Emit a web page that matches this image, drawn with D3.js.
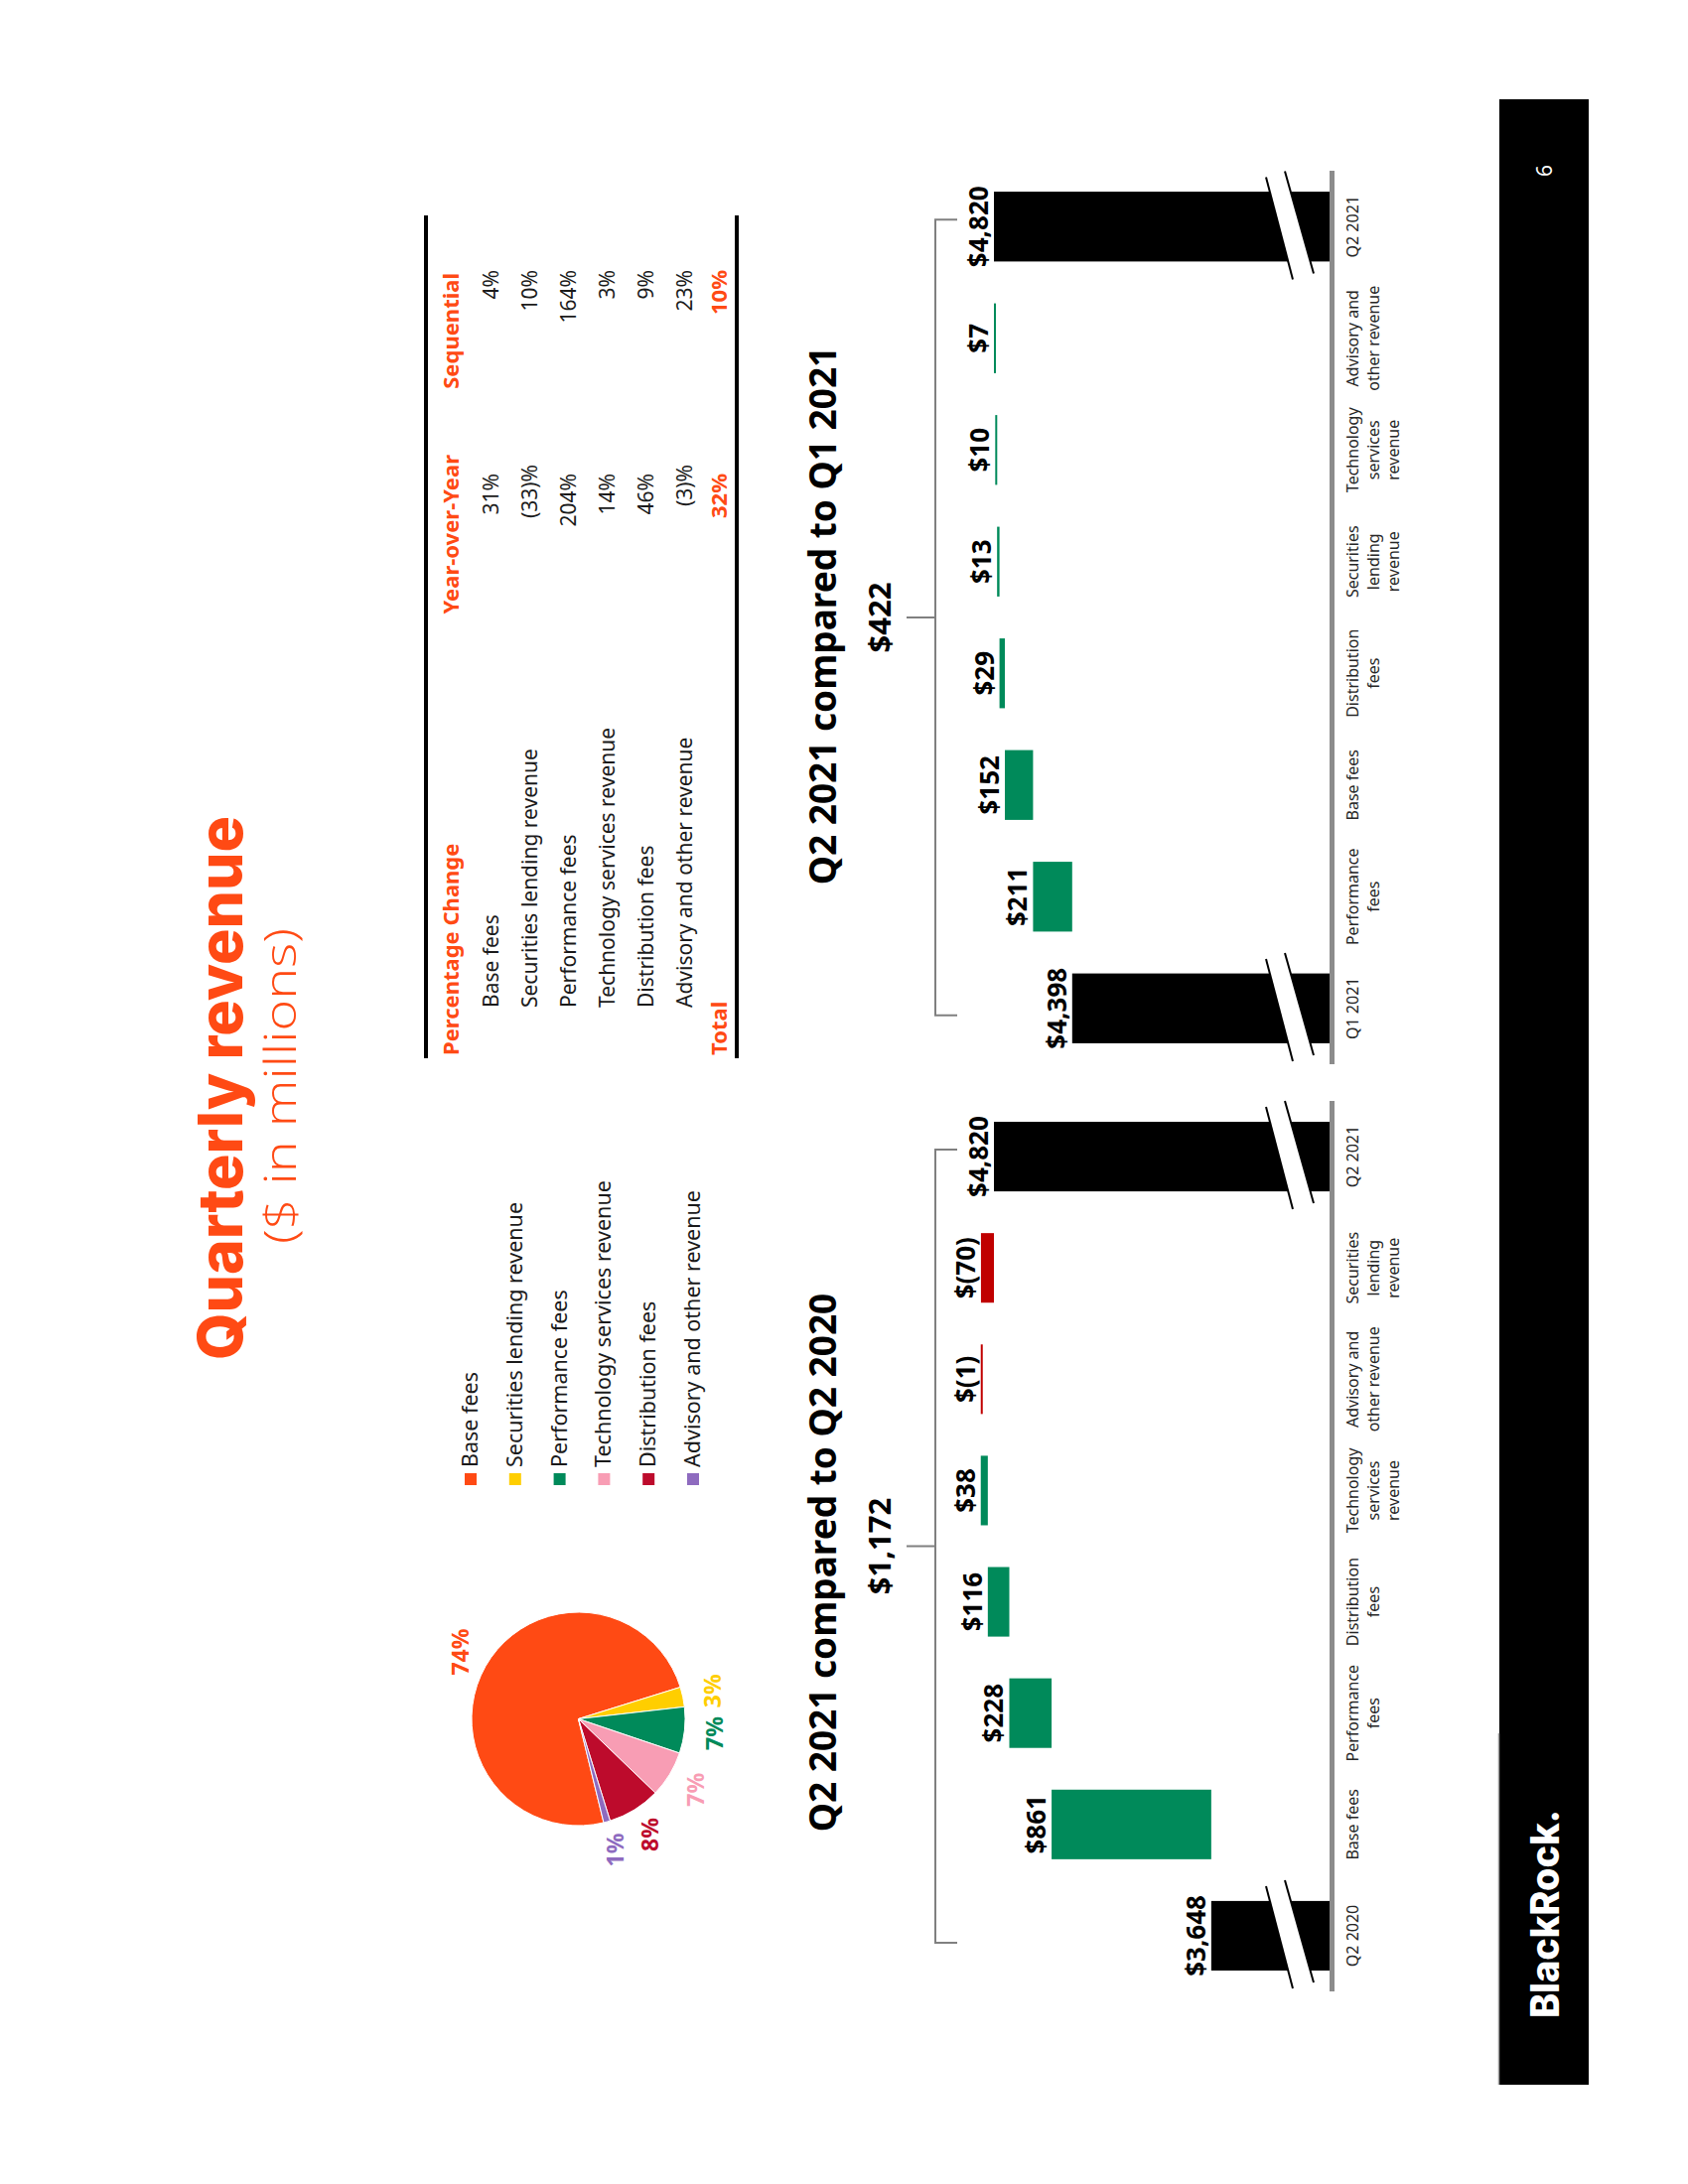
<!DOCTYPE html>
<html>
<head>
<meta charset="utf-8">
<script src="https://cdn.jsdelivr.net/npm/d3@7"></script>
<style>
  body { margin: 0; background: #fff; }
  text { font-family: "Noto Sans", "Open Sans", sans-serif; }
</style>
</head>
<body>
<div id="chart"></div>
<script>
// ---- data ----
var pieCategories = ['Base fees', 'Securities lending revenue', 'Performance fees',
  'Technology services revenue', 'Distribution fees', 'Advisory and other revenue']
var pieShares = [74, 3, 7, 7, 8, 1]

var yoyCategories = ['Q2 2020', 'Base fees', 'Performance fees', 'Distribution fees',
  'Technology services revenue', 'Advisory and other revenue', 'Securities lending revenue', 'Q2 2021']
var yoyValues = [3648, 861, 228, 116, 38, -1, -70, 4820]

var qoqCategories = ['Q1 2021', 'Performance fees', 'Base fees', 'Distribution fees',
  'Securities lending revenue', 'Technology services revenue', 'Advisory and other revenue', 'Q2 2021']
var qoqValues = [4398, 211, 152, 29, 13, 10, 7, 4820]

var tableRows = ['Base fees', 'Securities lending revenue', 'Performance fees',
  'Technology services revenue', 'Distribution fees', 'Advisory and other revenue']
var yoyChange = ['31%', '(33)%', '204%', '14%', '46%', '(3)%']
var seqChange = ['4%', '10%', '164%', '3%', '9%', '23%']
var totalChange = ['32%', '10%']

// where the value axis is cut (bars below this are not shown)
var axisFloor = 3010

// ---- styles ----
var orange = '#ff4a14'
var sliceColors = ['#ff4a14', '#ffce00', '#008a5a', '#f89db4', '#bd0b2c', '#8e6bbf']
var green = '#008a5a'
var red = '#c00000'
var gray = '#808080'

var labelLines = {
  'Base fees': ['Base fees'],
  'Performance fees': ['Performance', 'fees'],
  'Distribution fees': ['Distribution', 'fees'],
  'Technology services revenue': ['Technology', 'services', 'revenue'],
  'Advisory and other revenue': ['Advisory and', 'other revenue'],
  'Securities lending revenue': ['Securities', 'lending', 'revenue']
}

var width = 1700
var height = 2200

var svg = d3
  .select('#chart')
  .append('svg')
  .attr('width', width)
  .attr('height', height)

svg.append('rect').attr('width', width).attr('height', height).attr('fill', '#fff')

// the slide is landscape; draw it flat, then turn it so it reads bottom-to-top
var slide = svg.append('g').attr('transform', 'translate(0,' + height + ') rotate(-90)')

// ---- titles ----
slide
  .append('text')
  .attr('x', 1104)
  .attr('y', 244)
  .attr('text-anchor', 'middle')
  .attr('font-size', 62)
  .attr('font-weight', 800)
  .style('font-family', 'Inter, "Open Sans", sans-serif')
  .attr('textLength', 548)
  .attr('lengthAdjust', 'spacingAndGlyphs')
  .attr('fill', orange)
  .text('Quarterly revenue')

slide
  .append('text')
  .attr('x', 1106)
  .attr('y', 298)
  .attr('text-anchor', 'middle')
  .attr('font-size', 44)
  .attr('font-weight', 300)
  .style('font-family', '"Open Sans", "Noto Sans", sans-serif')
  .attr('textLength', 318)
  .attr('lengthAdjust', 'spacingAndGlyphs')
  .attr('fill', orange)
  .text('($ in millions)')

// ---- pie ----
var pieRadius = 107.5
var startAngle = -103.7 * Math.PI / 180
var pie = d3
  .pie()
  .sort(null)
  .startAngle(startAngle)
  .endAngle(startAngle + 2 * Math.PI)

var arc = d3.arc().innerRadius(0).outerRadius(pieRadius)
var labelArc = d3.arc().innerRadius(137).outerRadius(137)

var pieG = slide.append('g').attr('transform', 'translate(468.5,582.5)')

var slices = pie(pieShares)

pieG
  .selectAll('path')
  .data(slices)
  .enter()
  .append('path')
  .attr('d', arc)
  .attr('fill', (d, i) => sliceColors[i])
  .attr('stroke', '#fff')
  .attr('stroke-width', 1)

pieG
  .selectAll('.pie-label')
  .data(slices)
  .enter()
  .append('text')
  .attr('class', 'pie-label')
  .attr('transform', d => 'translate(' + labelArc.centroid(d) + ')')
  .attr('text-anchor', 'middle')
  .attr('dominant-baseline', 'central')
  .attr('font-size', 23)
  .attr('font-weight', 700)
  .attr('fill', (d, i) => sliceColors[i])
  .text(d => d.data + '%')

// ---- legend ----
var legend = slide
  .selectAll('.legend')
  .data(pieCategories)
  .enter()
  .append('g')
  .attr('class', 'legend')
  .attr('transform', (d, i) => 'translate(0,' + (i * 44.8) + ')')

legend
  .append('rect')
  .attr('x', 704)
  .attr('y', 468)
  .attr('width', 12)
  .attr('height', 12)
  .attr('fill', (d, i) => sliceColors[i])

legend
  .append('text')
  .attr('x', 722)
  .attr('y', 481)
  .attr('font-size', 21.5)
  .attr('fill', '#1a1a1a')
  .text(d => d)

// ---- percentage change table ----
var table = slide.append('g')

table
  .selectAll('.rule')
  .data([429, 742])
  .enter()
  .append('line')
  .attr('x1', 1134)
  .attr('x2', 1983)
  .attr('y1', d => d)
  .attr('y2', d => d)
  .attr('stroke', '#000')
  .attr('stroke-width', 4)

var headG = table
  .append('g')
  .attr('font-size', 22)
  .attr('font-weight', 700)
  .attr('fill', orange)
headG.append('text').attr('x', 1137).attr('y', 462).text('Percentage Change')
headG.append('text').attr('x', 1742).attr('y', 462).attr('text-anchor', 'end').text('Year-over-Year')
headG.append('text').attr('x', 1925).attr('y', 462).attr('text-anchor', 'end').text('Sequential')

var rowY = i => 502 + i * 39
// values in parentheses hang a little past the column edge
var hang = s => (s.indexOf(')') >= 0 ? 9 : 0)

var rows = table
  .selectAll('.row')
  .data(tableRows)
  .enter()
  .append('g')
  .attr('font-size', 21)
  .attr('fill', '#1a1a1a')

rows.append('text').attr('x', 1185).attr('y', (d, i) => rowY(i)).text(d => d)
rows
  .append('text')
  .attr('x', (d, i) => 1723 + hang(yoyChange[i]))
  .attr('y', (d, i) => rowY(i))
  .attr('text-anchor', 'end')
  .text((d, i) => yoyChange[i])
rows
  .append('text')
  .attr('x', (d, i) => 1928 + hang(seqChange[i]))
  .attr('y', (d, i) => rowY(i))
  .attr('text-anchor', 'end')
  .text((d, i) => seqChange[i])

var totalG = table
  .append('g')
  .attr('font-size', 22)
  .attr('font-weight', 700)
  .attr('fill', orange)
totalG.append('text').attr('x', 1137).attr('y', 732).text('Total')
totalG.append('text').attr('x', 1723).attr('y', 732).attr('text-anchor', 'end').text(totalChange[0])
totalG.append('text').attr('x', 1928).attr('y', 732).attr('text-anchor', 'end').text(totalChange[1])

// ---- waterfalls ----
var yScale = d3
  .scaleLinear()
  .domain([axisFloor, d3.max(yoyValues.concat(qoqValues))])
  .range([1339, 1001])

var fmt = d3.format(',')
var money = v => (v < 0 ? '$(' + fmt(-v) + ')' : '$' + fmt(v))

function waterfall(categories, values, range, title, titleX) {
  var g = slide.append('g')

  var x = d3
    .scaleBand()
    .domain(categories)
    .range(range)
    .paddingInner(0.375)
    .paddingOuter(0.1875)

  var last = values.length - 1
  var run = values[0]
  var steps = values.map(function(v, i) {
    if (i === 0 || i === last) {
      return { cat: categories[i], v: v, lo: axisFloor, hi: v, total: true }
    }
    var s = { cat: categories[i], v: v, lo: Math.min(run, run + v), hi: Math.max(run, run + v) }
    run += v
    return s
  })

  // bars
  g.selectAll('.bar')
    .data(steps)
    .enter()
    .append('rect')
    .attr('x', d => x(d.cat))
    .attr('width', x.bandwidth())
    .attr('y', d => yScale(d.hi))
    .attr('height', d => Math.max(2, yScale(d.lo) - yScale(d.hi)))
    .attr('fill', d => (d.total ? '#000' : d.v < 0 ? red : green))

  // axis break on the two total bars
  var base = yScale(axisFloor)
  var breaks = g
    .selectAll('.brk')
    .data(steps.filter(d => d.total))
    .enter()
    .append('g')
    .attr('transform', d => 'translate(' + x(d.cat) + ',' + base + ')')
  breaks
    .append('polygon')
    .attr('points', '-18,-37 85,-64 91,-45 -12,-16')
    .attr('fill', '#fff')
  breaks
    .selectAll('line')
    .data([[-18, -37, 85, -64], [-12, -16, 91, -45]])
    .enter()
    .append('line')
    .attr('x1', d => d[0])
    .attr('y1', d => d[1])
    .attr('x2', d => d[2])
    .attr('y2', d => d[3])
    .attr('stroke', '#000')
    .attr('stroke-width', 2)

  // value labels
  g.selectAll('.val')
    .data(steps)
    .enter()
    .append('text')
    .attr('x', d => x(d.cat) + x.bandwidth() / 2)
    .attr('y', d => yScale(d.hi) - 6)
    .attr('text-anchor', 'middle')
    .attr('font-size', 26)
    .attr('font-weight', 700)
    .attr('fill', '#000')
    .text(d => money(d.v))

  // baseline
  g.append('line')
    .attr('x1', range[0])
    .attr('x2', range[1])
    .attr('y1', base + 2.5)
    .attr('y2', base + 2.5)
    .attr('stroke', '#8c8c8c')
    .attr('stroke-width', 5)

  // category labels
  var cats = g
    .selectAll('.cat')
    .data(categories)
    .enter()
    .append('text')
    .attr('text-anchor', 'middle')
    .attr('font-size', 16)
    .attr('fill', '#262626')
  cats
    .selectAll('tspan')
    .data(d => (labelLines[d] || [d]).map(t => ({ t: t, c: d })))
    .enter()
    .append('tspan')
    .attr('x', d => x(d.c) + x.bandwidth() / 2)
    .attr('y', (d, i) => 1368 + i * 20.5)
    .text(d => d.t)

  // bracket showing the change between the two totals
  var xa = x(categories[0]) + x.bandwidth() / 2 - 7
  var xb = x(categories[last]) + x.bandwidth() / 2 + 7
  var mid = (xa + xb) / 2
  g.append('path')
    .attr('d', 'M' + xa + ',964V942H' + xb + 'V964M' + mid + ',942V913')
    .attr('fill', 'none')
    .attr('stroke', gray)
    .attr('stroke-width', 2)

  g.append('text')
    .attr('x', mid)
    .attr('y', 897)
    .attr('text-anchor', 'middle')
    .attr('font-size', 31)
    .attr('font-weight', 700)
    .attr('fill', '#000')
    .text(money(values[last] - values[0]))

  g.append('text')
    .attr('x', titleX)
    .attr('y', 842)
    .attr('text-anchor', 'middle')
    .attr('font-size', 37)
    .attr('font-weight', 700)
    .attr('fill', '#000')
    .text(title)
}

waterfall(yoyCategories, yoyValues, [194, 1091], 'Q2 2021 compared to Q2 2020', 626)
waterfall(qoqCategories, qoqValues, [1128, 2028], 'Q2 2021 compared to Q1 2021', 1580)

// ---- footer ----
slide
  .append('rect')
  .attr('x', 100)
  .attr('y', 1510)
  .attr('width', 2000)
  .attr('height', 90)
  .attr('fill', '#000')

slide
  .append('line')
  .attr('x1', 100)
  .attr('x2', 454)
  .attr('y1', 1509.5)
  .attr('y2', 1509.5)
  .attr('stroke', '#999')
  .attr('stroke-width', 1.5)

slide
  .append('text')
  .attr('x', 167)
  .attr('y', 1570)
  .attr('font-size', 40)
  .attr('font-weight', 800)
  .style('font-family', 'Inter, "Open Sans", sans-serif')
  .attr('textLength', 210)
  .attr('lengthAdjust', 'spacingAndGlyphs')
  .attr('fill', '#fff')
  .text('BlackRock.')

slide
  .append('text')
  .attr('x', 2028)
  .attr('y', 1563)
  .attr('text-anchor', 'middle')
  .attr('font-size', 21)
  .attr('fill', '#fff')
  .text('6')
</script>
</body>
</html>
